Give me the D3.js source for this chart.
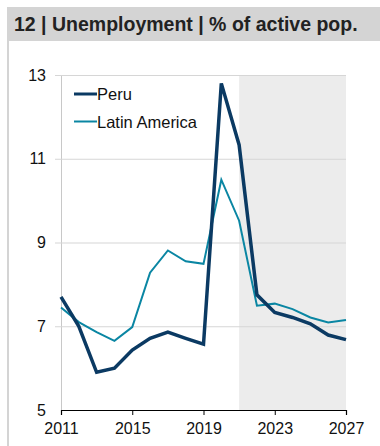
<!DOCTYPE html>
<html>
<head>
<meta charset="utf-8">
<script src="https://cdn.jsdelivr.net/npm/d3@7"></script>
<style>
  body { margin: 0; background: #fff; }
  svg { display: block; font-family: 'Liberation Sans', Arial, sans-serif; }
</style>
</head>
<body>
<div id="chart"></div>
<script>
'use strict'

const TITLE = '12 | Unemployment | % of active pop.'
const YEARS = d3.range(2011, 2028)
const PERU = [7.7, 7.0, 5.9, 6.0, 6.43, 6.71, 6.86, 6.71, 6.57, 12.8, 11.33, 7.75, 7.33, 7.21, 7.06, 6.79, 6.68]
const LATAM = [7.45, 7.1, 6.86, 6.65, 6.98, 8.28, 8.81, 8.55, 8.49, 10.5, 9.52, 7.49, 7.54, 7.41, 7.21, 7.09, 7.15]
const X_TICKS = [2011, 2015, 2019, 2023, 2027]
const Y_TICKS = [5, 7, 9, 11, 13]
const FORECAST_START = 2021
const SERIES = [
  { name: 'Peru', values: PERU, color: '#0b3a63', width: 3.5 },
  { name: 'Latin America', values: LATAM, color: '#0a86a3', width: 2 }
]

const W = 380
const H = 446
const MARGIN = { top: 75, right: 34, bottom: 36, left: 61 }

const svg = d3.select('#chart').append('svg')
  .attr('width', W)
  .attr('height', H)

// title bar + left frame line
svg.append('rect')
  .attr('x', 7).attr('y', 7)
  .attr('width', W - 7).attr('height', 34)
  .attr('fill', '#d4d4d4')
svg.append('rect')
  .attr('x', 7).attr('y', 41)
  .attr('width', 2).attr('height', H - 41)
  .attr('fill', '#d4d4d4')
svg.append('text')
  .attr('x', 14).attr('y', 31)
  .attr('font-size', 19.5)
  .attr('font-weight', 'bold')
  .attr('fill', '#222')
  .text(TITLE)

const x = d3.scaleLinear()
  .domain([2011, 2027])
  .range([MARGIN.left, W - MARGIN.right])

const y = d3.scaleLinear()
  .domain([5, 13])
  .range([H - MARGIN.bottom, MARGIN.top])

// forecast shading
svg.append('rect')
  .attr('x', x(FORECAST_START))
  .attr('y', y(13))
  .attr('width', x(2027) - x(FORECAST_START))
  .attr('height', y(5) - y(13))
  .attr('fill', '#ececec')

// y axis with gridlines
const yAxis = svg.append('g')
  .attr('transform', 'translate(' + MARGIN.left + ',0)')
  .call(d3.axisLeft(y).tickValues(Y_TICKS).tickSize(0).tickPadding(15))
yAxis.select('.domain').attr('stroke', '#c8c8c8')
yAxis.selectAll('.tick text')
  .attr('font-size', 16)
  .attr('fill', '#111')
  .attr('font-family', 'Liberation Sans, Arial, sans-serif')
yAxis.selectAll('.tick').filter(d => d !== 5)
  .append('line')
  .attr('x1', -6).attr('x2', x(2027) - MARGIN.left)
  .attr('stroke', '#d6d6d6')
  .attr('stroke-width', 1.2)

// lines
const line = d3.line()
  .x((d, i) => x(YEARS[i]))
  .y(d => y(d))

SERIES.slice().reverse().forEach(s => {
  svg.append('path')
    .datum(s.values)
    .attr('fill', 'none')
    .attr('stroke', s.color)
    .attr('stroke-width', s.width)
    .attr('stroke-linejoin', 'miter')
    .attr('d', line)
})

// x axis
const xAxis = svg.append('g')
  .attr('transform', 'translate(0,' + y(5) + ')')
  .call(d3.axisBottom(x).tickValues(X_TICKS).tickFormat(d3.format('d')).tickSizeOuter(0).tickSize(5).tickPadding(8))
xAxis.select('.domain').attr('stroke', '#000').attr('stroke-width', 1.2)
xAxis.selectAll('.tick line').attr('stroke', '#000')
xAxis.selectAll('.tick text')
  .attr('font-size', 16)
  .attr('fill', '#111')
  .attr('font-family', 'Liberation Sans, Arial, sans-serif')

// legend
const legend = svg.append('g')
SERIES.forEach((s, i) => {
  const ly = 94 + i * 27.5
  legend.append('line')
    .attr('x1', 74).attr('x2', 97)
    .attr('y1', ly).attr('y2', ly)
    .attr('stroke', s.color)
    .attr('stroke-width', s.width === 2 ? 2 : 3)
  legend.append('text')
    .attr('x', 97).attr('y', ly + 6)
    .attr('font-size', 16.5)
    .attr('fill', '#111')
    .text(s.name)
})
</script>
</body>
</html>
